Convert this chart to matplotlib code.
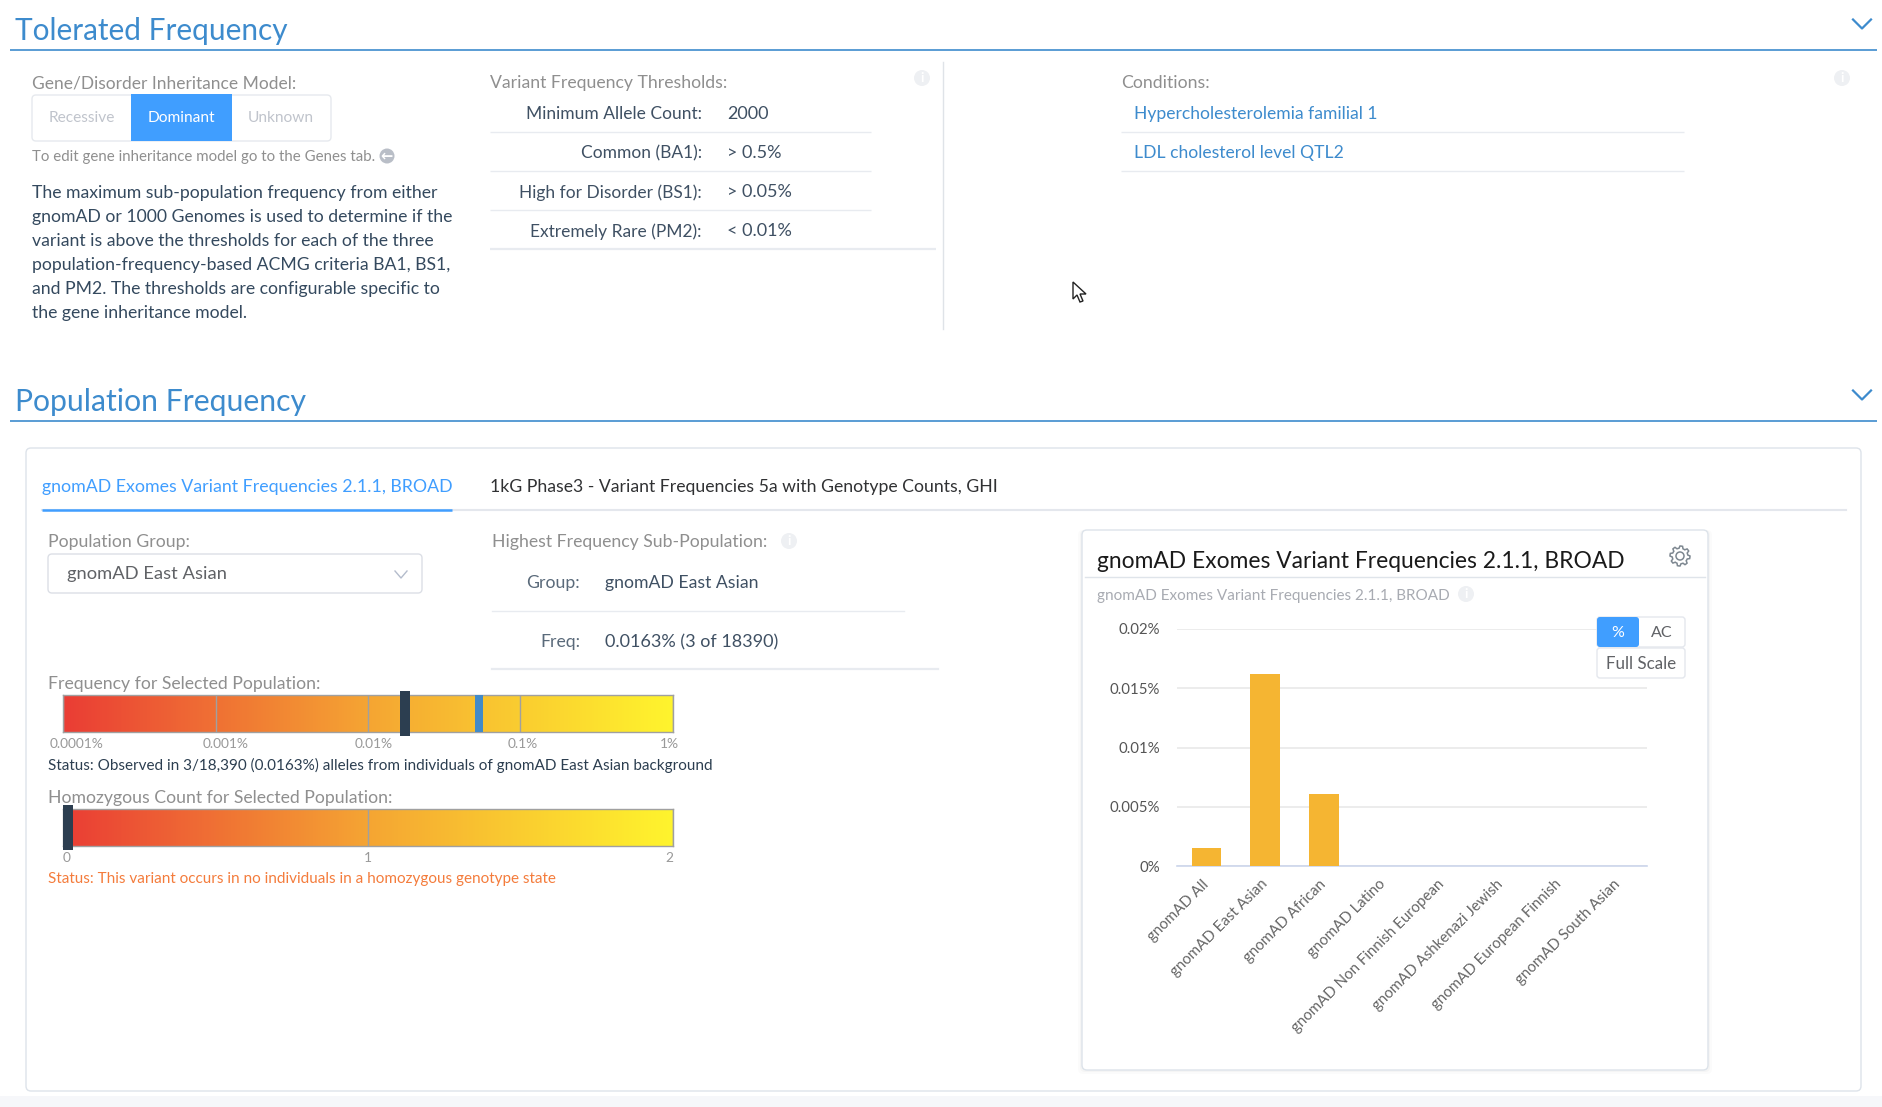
import numpy as np
import matplotlib
matplotlib.use("Agg")
import matplotlib.pyplot as plt
from matplotlib.patches import FancyBboxPatch, Rectangle, Circle, Polygon
from matplotlib.colors import LinearSegmentedColormap
from matplotlib.transforms import ScaledTranslation

W, H = 1883, 1107

populations = ["gnomAD All", "gnomAD East Asian", "gnomAD African", "gnomAD Latino",
               "gnomAD Non Finnish European", "gnomAD Ashkenazi Jewish",
               "gnomAD European Finnish", "gnomAD South Asian"]
pop_freq = [0.00155, 0.0162, 0.00606, 0, 0, 0, 0, 0]
freq_ticks = [0.02, 0.015, 0.01, 0.005, 0]
freq_tick_labels = ["0.02%", "0.015%", "0.01%", "0.005%", "0%"]

scale_values = [0.0001, 0.001, 0.01, 0.1, 1]
scale_labels = ["0.0001%", "0.001%", "0.01%", "0.1%", "1%"]
observed_freq = 0.0163
threshold_freq = 0.05
hom_values = [0, 1, 2]
hom_labels = ["0", "1", "2"]
observed_hom = 0

threshold_names = ["Minimum Allele Count:", "Common (BA1):", "High for Disorder (BS1):", "Extremely Rare (PM2):"]
threshold_vals = ["2000", "> 0.5%", "> 0.05%", "< 0.01%"]
conditions = ["Hypercholesterolemia familial 1", "LDL cholesterol level QTL2"]
paragraph = ["The maximum sub-population frequency from either",
             "gnomAD or 1000 Genomes is used to determine if the",
             "variant is above the thresholds for each of the three",
             "population-frequency-based ACMG criteria BA1, BS1,",
             "and PM2. The thresholds are configurable specific to",
             "the gene inheritance model."]

BLUE = "#3d8bcd"
BTN = "#409eff"
GREY = "#8f8f8f"
DARK = "#2c3e50"
LINE = "#e8ebf0"
BAR = "#f5b532"
heat = LinearSegmentedColormap.from_list("heat", ["#ea3d35", "#f5a533", "#fff42d"])

plt.rcParams["font.family"] = ["Lato", "DejaVu Sans"]

fig = plt.figure(figsize=(W / 100, H / 100), dpi=100, facecolor="white")
bg = fig.add_axes([0, 0, 1, 1])
bg.set_xlim(0, W)
bg.set_ylim(H, 0)
bg.axis("off")


def px_axes(x0, y0, x1, y1):
    return fig.add_axes([x0 / W, 1 - y1 / H, (x1 - x0) / W, (y1 - y0) / H])


def txt(x, y, s, size=17, color=GREY, ha="left", **kw):
    bg.text(x, y + 1.3, s, fontsize=size * 0.72, color=color, ha=ha, va="center", **kw)


def hline(x0, x1, y, color=LINE, lw=1.0):
    bg.plot([x0, x1], [y, y], color=color, lw=lw, solid_capstyle="butt")


def box(x0, y0, x1, y1, fc="white", ec="#dfe4ea", r=4, lw=1.0, z=2):
    bg.add_patch(FancyBboxPatch((x0, y0), x1 - x0, y1 - y0, boxstyle=f"round,pad=0,rounding_size={r}",
                                fc=fc, ec=ec, lw=lw, zorder=z))


def info(x, y, color="#eef0f3", r=8):
    bg.add_patch(Circle((x, y), r, fc=color, ec="none", zorder=4))
    bg.text(x, y, "i", fontsize=r * 1.2, color="white", ha="center", va="center", weight="bold", zorder=5)


def chevron(x, y, w, h, color, lw=1.6):
    bg.plot([x - w, x, x + w], [y - h, y + h, y - h], color=color, lw=lw)


# section headers
for title, size, y_t, y_r, y_c in [("Tolerated Frequency", 29.8, 30, 50, 24),
                                   ("Population Frequency", 30.1, 401, 421, 395)]:
    txt(15, y_t, title, size=size, color=BLUE)
    hline(10, 1877, y_r, color=BLUE, lw=1.2)
    chevron(1862, y_c, 9, 4.5, BLUE)

# tolerated frequency, left column
txt(32, 82, "Gene/Disorder Inheritance Model:", size=17.4)
box(32, 95, 331, 141, ec="#e6e9ee")
bg.add_patch(Rectangle((131, 94), 101, 47, fc=BTN, ec="none", zorder=3))
txt(82, 117, "Recessive", size=15.5, color="#c0c4cc", ha="center")
txt(181, 117, "Dominant", size=15.5, color="white", ha="center", zorder=4)
txt(281, 117, "Unknown", size=15.5, color="#c0c4cc", ha="center")
txt(32, 156, "To edit gene inheritance model go to the Genes tab.", size=15)
bg.add_patch(Circle((387, 156), 7.5, fc="#b9bec7", ec="none"))
bg.text(386.5, 155.5, "\u2190", fontsize=10.5, color="white", ha="center", va="center", weight="bold",
        family="DejaVu Sans")
for i, line in enumerate(paragraph):
    txt(32, 192 + 24 * i, line, size=17.6, color="#34495e")

# thresholds table
txt(490, 82, "Variant Frequency Thresholds:", size=17.6)
info(922, 78)
for i, (name, val) in enumerate(zip(threshold_names, threshold_vals)):
    y = 113 + 39 * i
    txt(702, y, name, size=17.4, color="#3f5063", ha="right")
    txt(727, y, val, size=18, color="#3f5063")
    if i < 3:
        hline(490, 871, y + 19)
hline(490, 936, 249, lw=1.6)
bg.plot([943, 943], [62, 329], color="#dfe3e8", lw=1)

# conditions
txt(1121, 82, "Conditions:", size=17.6)
info(1842, 78)
for i, c in enumerate(conditions):
    txt(1134, 113 + 39 * i, c, size=17.5, color=BLUE)
    hline(1121, 1684, 132 + 39 * i)

# mouse cursor
bg.add_patch(Polygon([(1073, 282), (1073, 299), (1077, 295), (1080, 302), (1083, 301), (1080, 294), (1086, 294)],
                     closed=True, fc="white", ec="#222222", lw=1.0, zorder=5))

# population card
box(26, 448, 1861, 1091, ec="#dde3ea", r=5)
bg.add_patch(Rectangle((0, 1096), W, 11, fc="#f6f7fa", ec="none"))
txt(42, 486, "gnomAD Exomes Variant Frequencies 2.1.1, BROAD", size=17.7, color=BTN, zorder=4)
txt(490, 486, "1kG Phase3 - Variant Frequencies 5a with Genotype Counts, GHI", size=17.6, color="#303133", zorder=4)
bg.plot([42, 1846], [510, 510], color="#e4e7ed", lw=1.5, zorder=4)
bg.plot([42, 452], [510, 510], color=BTN, lw=1.8, zorder=5, solid_capstyle="butt")

txt(48, 541, "Population Group:", size=17.6, zorder=4)
box(48, 554, 422, 593, ec="#dcdfe6", z=3)
txt(67, 573, "gnomAD East Asian", size=18.4, color="#606266", zorder=4)
bg.plot([395, 401, 407], [571, 578, 571], color="#b4bccc", lw=1, zorder=4)

txt(492, 541, "Highest Frequency Sub-Population:", size=17.6, zorder=4)
info(789, 541)
txt(580, 582, "Group:", size=17.6, color="#5a6a7a", ha="right", zorder=4)
txt(605, 582, "gnomAD East Asian", size=17.6, color="#3f5063", zorder=4)
bg.plot([492, 904], [611, 611], color=LINE, lw=1, zorder=4)
txt(580, 641, "Freq:", size=17.6, color="#5a6a7a", ha="right", zorder=4)
txt(605, 641, "0.0163% (3 of 18390)", size=18, color="#3f5063", zorder=4)
bg.plot([492, 938], [669, 669], color=LINE, lw=1.6, zorder=4)

grad = np.linspace(0, 1, 400)[None, :]


def heat_bar(y0, y1):
    a = px_axes(63, y0, 673, y1)
    a.set_ylim(0, 1)
    for s in a.spines.values():
        s.set_color("#a0a0a0")
        s.set_linewidth(1.0)
    a.tick_params(length=0, labelbottom=False, labelleft=False)
    a.set_yticks([])
    return a


# frequency scale bar (log10 positions)
txt(48, 683, "Frequency for Selected Population:", size=17.6, zorder=4)
ax_f = heat_bar(695, 732)
lims = (np.log10(scale_values[0]), np.log10(scale_values[-1]))
ax_f.imshow(grad, cmap=heat, aspect="auto", extent=(lims[0], lims[1], 0, 1))
ax_f.set_xlim(*lims)
ax_f.set_xticks(np.log10(scale_values))
ax_f.grid(axis="x", color="#a0a0a0", lw=1)
ax_f.bar(np.log10(threshold_freq), 1, width=0.052, align="edge", color="#428ac8", zorder=4)
ax_f.bar(np.log10(observed_freq), 1.2, bottom=-0.1, width=0.066, align="edge", color=DARK, clip_on=False, zorder=5)
for v, lab in zip(scale_values, scale_labels):
    ax_f.annotate(lab, (np.log10(v), 0), xycoords=("data", "axes fraction"), xytext=(-13, -12),
                  textcoords="offset pixels", ha="left", va="center", fontsize=13.8 * 0.72, color="#999999")
txt(48, 764, "Status: Observed in 3/18,390 (0.0163%) alleles from individuals of gnomAD East Asian background",
    size=15.25, color=DARK, zorder=4)

# homozygous scale bar
txt(48, 797, "Homozygous Count for Selected Population:", size=17.6, zorder=4)
ax_h = heat_bar(809, 846)
ax_h.imshow(grad, cmap=heat, aspect="auto", extent=(hom_values[0], hom_values[-1], 0, 1))
ax_h.set_xlim(hom_values[0], hom_values[-1])
ax_h.set_xticks(hom_values)
ax_h.grid(axis="x", color="#a0a0a0", lw=1)
ax_h.bar(observed_hom, 1.2, bottom=-0.1, width=0.033, align="edge", color=DARK, clip_on=False, zorder=5)
for v, lab, al in zip(hom_values, hom_labels, ["left", "center", "right"]):
    ax_h.annotate(lab, (v, 0), xycoords=("data", "axes fraction"), xytext=(0, -12),
                  textcoords="offset pixels", ha=al, va="center", fontsize=13.8 * 0.72, color="#999999")
txt(48, 878, "Status: This variant occurs in no individuals in a homozygous genotype state",
    size=15.2, color="#f47c3c", zorder=4)

# chart card
for d, a in [(4, 0.015), (2, 0.025)]:
    bg.add_patch(FancyBboxPatch((1082 - d, 530), 626 + 2 * d, 540 + d, boxstyle="round,pad=0,rounding_size=5",
                                fc="#000000", ec="none", alpha=a, zorder=3))
box(1082, 530, 1708, 1070, ec="#dde3ea", r=5, z=3)
txt(1097, 560, "gnomAD Exomes Variant Frequencies 2.1.1, BROAD", size=22.75, color="#1a1a1a", zorder=4)
bg.plot([1085, 1705], [577, 577], color="#dfe4ea", lw=1, zorder=4)
txt(1097, 595, "gnomAD Exomes Variant Frequencies 2.1.1, BROAD", size=15.2, color="#a8abb2", zorder=4)
info(1466, 594)
ang = np.linspace(0, 2 * np.pi, 49)[:-1]
rad = np.where(np.arange(48) % 6 < 3, 10, 7.8)
bg.add_patch(Polygon(np.c_[1680 + rad * np.cos(ang), 556 + rad * np.sin(ang)], closed=True, fc="white",
                     ec="#7d8790", lw=1.1, zorder=4))
bg.add_patch(Circle((1680, 556), 4, fc="white", ec="#7d8790", lw=1.1, zorder=5))

# bar chart
ax = px_axes(1177, 629, 1647, 866)
ax.patch.set_alpha(0)
ax.bar(range(len(populations)), pop_freq, width=0.5, color=BAR, zorder=3)
ax.set_xlim(-0.5, len(populations) - 0.5)
ax.set_ylim(0, 0.02)
ax.set_yticks(freq_ticks)
ax.set_yticklabels(freq_tick_labels, fontsize=15 * 0.72, color="#555555")
ax.set_xticks(range(len(populations)))
ax.set_xticklabels(populations, rotation=45, ha="right", rotation_mode="anchor", fontsize=15 * 0.72, color="#666666")
ax.tick_params(axis="both", length=0)
ax.tick_params(axis="y", pad=12)
ax.tick_params(axis="x", pad=8)
for lab in ax.get_xticklabels():
    lab.set_transform(lab.get_transform() + ScaledTranslation(-4.5 / 100, 0, fig.dpi_scale_trans))
ax.grid(axis="y", color="#e9e9e9", lw=1.2, zorder=0)
for s in ["top", "left", "right"]:
    ax.spines[s].set_visible(False)
ax.spines["bottom"].set_color("#ccd6eb")
ax.spines["bottom"].set_linewidth(1.2)

# chart buttons
over = fig.add_axes([0, 0, 1, 1])
over.set_xlim(0, W)
over.set_ylim(H, 0)
over.axis("off")
over.add_patch(FancyBboxPatch((1597, 617), 88, 30, boxstyle="round,pad=0,rounding_size=3", fc="white", ec="#e4e7ed", lw=1))
over.add_patch(FancyBboxPatch((1597, 617), 42, 30, boxstyle="round,pad=0,rounding_size=3", fc=BTN, ec="none"))
over.text(1618, 633, "%", fontsize=16 * 0.72, color="white", ha="center", va="center")
over.text(1662, 633, "AC", fontsize=16 * 0.72, color="#606266", ha="center", va="center")
over.add_patch(FancyBboxPatch((1597, 648), 88, 30, boxstyle="round,pad=0,rounding_size=3", fc="white", ec="#e4e7ed", lw=1))
over.text(1641, 664, "Full Scale", fontsize=17 * 0.72, color="#606266", ha="center", va="center")

fig.savefig("out.png", dpi=100)
